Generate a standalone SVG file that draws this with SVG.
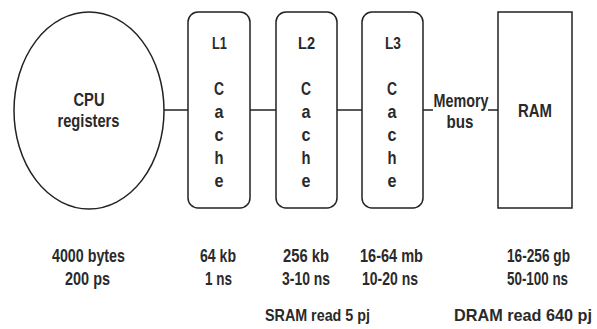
<svg xmlns="http://www.w3.org/2000/svg" width="597" height="329" viewBox="0 0 597 329">
<style>
.shape{fill:#fff;stroke:#222;stroke-width:1.5}
.conn{fill:none;stroke:#222;stroke-width:1.5}
text{font-family:"Liberation Sans",Arial,sans-serif;font-weight:bold;font-size:19px;fill:#2a2a2a;text-anchor:middle}
.sm{font-size:17px}
.bt{font-size:17px}
</style>
<rect width="597" height="329" fill="#fff"/>
<g id="connectors">
<line class="conn" x1="164" y1="110" x2="188" y2="110"/>
<line class="conn" x1="250" y1="110" x2="276" y2="110"/>
<line class="conn" x1="337" y1="110" x2="362" y2="110"/>
<path class="conn" d="M423,110 H433 M488,110 H498"/>
<text x="461" y="107" textLength="55" lengthAdjust="spacingAndGlyphs">Memory</text>
<text x="460" y="128" textLength="27" lengthAdjust="spacingAndGlyphs">bus</text>
</g>
<g id="cpu">
<ellipse class="shape" cx="89" cy="110.5" rx="75" ry="98.5"/>
<text x="89" y="106" textLength="31" lengthAdjust="spacingAndGlyphs">CPU</text>
<text x="88.5" y="127" textLength="62" lengthAdjust="spacingAndGlyphs">registers</text>
</g>
<g id="l1">
<rect class="shape" x="188" y="12" width="62" height="196" rx="10"/>
<text class="sm" x="219.5" y="49" textLength="15" lengthAdjust="spacingAndGlyphs">L1</text>
<text x="219" y="95" textLength="10" lengthAdjust="spacingAndGlyphs">C</text>
<text x="219" y="118" textLength="9" lengthAdjust="spacingAndGlyphs">a</text>
<text x="219" y="141" textLength="9" lengthAdjust="spacingAndGlyphs">c</text>
<text x="219" y="164" textLength="9" lengthAdjust="spacingAndGlyphs">h</text>
<text x="219" y="187" textLength="9" lengthAdjust="spacingAndGlyphs">e</text>
</g>
<g id="l2">
<rect class="shape" x="276" y="12" width="61" height="196" rx="10"/>
<text class="sm" x="306.5" y="49" textLength="17" lengthAdjust="spacingAndGlyphs">L2</text>
<text x="306" y="95" textLength="10" lengthAdjust="spacingAndGlyphs">C</text>
<text x="306" y="118" textLength="9" lengthAdjust="spacingAndGlyphs">a</text>
<text x="306" y="141" textLength="9" lengthAdjust="spacingAndGlyphs">c</text>
<text x="306" y="164" textLength="9" lengthAdjust="spacingAndGlyphs">h</text>
<text x="306" y="187" textLength="9" lengthAdjust="spacingAndGlyphs">e</text>
</g>
<g id="l3">
<rect class="shape" x="362" y="12" width="61" height="196" rx="10"/>
<text class="sm" x="393" y="49" textLength="16" lengthAdjust="spacingAndGlyphs">L3</text>
<text x="392" y="95" textLength="10" lengthAdjust="spacingAndGlyphs">C</text>
<text x="392" y="118" textLength="9" lengthAdjust="spacingAndGlyphs">a</text>
<text x="392" y="141" textLength="9" lengthAdjust="spacingAndGlyphs">c</text>
<text x="392" y="164" textLength="9" lengthAdjust="spacingAndGlyphs">h</text>
<text x="392" y="187" textLength="9" lengthAdjust="spacingAndGlyphs">e</text>
</g>
<g id="ram">
<rect class="shape" x="498" y="12" width="74" height="196"/>
<text x="535" y="117" textLength="34" lengthAdjust="spacingAndGlyphs">RAM</text>
</g>
<g id="labels">
<text x="88.5" y="262" textLength="73" lengthAdjust="spacingAndGlyphs">4000 bytes</text>
<text x="87.5" y="285" textLength="45" lengthAdjust="spacingAndGlyphs">200 ps</text>
<text x="218" y="262" textLength="36" lengthAdjust="spacingAndGlyphs">64 kb</text>
<text x="218.5" y="285" textLength="27" lengthAdjust="spacingAndGlyphs">1 ns</text>
<text x="306" y="262" textLength="46" lengthAdjust="spacingAndGlyphs">256 kb</text>
<text x="306" y="285" textLength="48" lengthAdjust="spacingAndGlyphs">3-10 ns</text>
<text x="391.5" y="262" textLength="63" lengthAdjust="spacingAndGlyphs">16-64 mb</text>
<text x="390" y="285" textLength="56" lengthAdjust="spacingAndGlyphs">10-20 ns</text>
<text x="538.5" y="262" textLength="63" lengthAdjust="spacingAndGlyphs">16-256 gb</text>
<text x="537.5" y="285" textLength="61" lengthAdjust="spacingAndGlyphs">50-100 ns</text>
<text class="bt" x="317.5" y="321" textLength="105" lengthAdjust="spacingAndGlyphs">SRAM read 5 pj</text>
<text class="bt" x="523" y="321" textLength="138" lengthAdjust="spacingAndGlyphs">DRAM read 640 pj</text>
</g>
</svg>
